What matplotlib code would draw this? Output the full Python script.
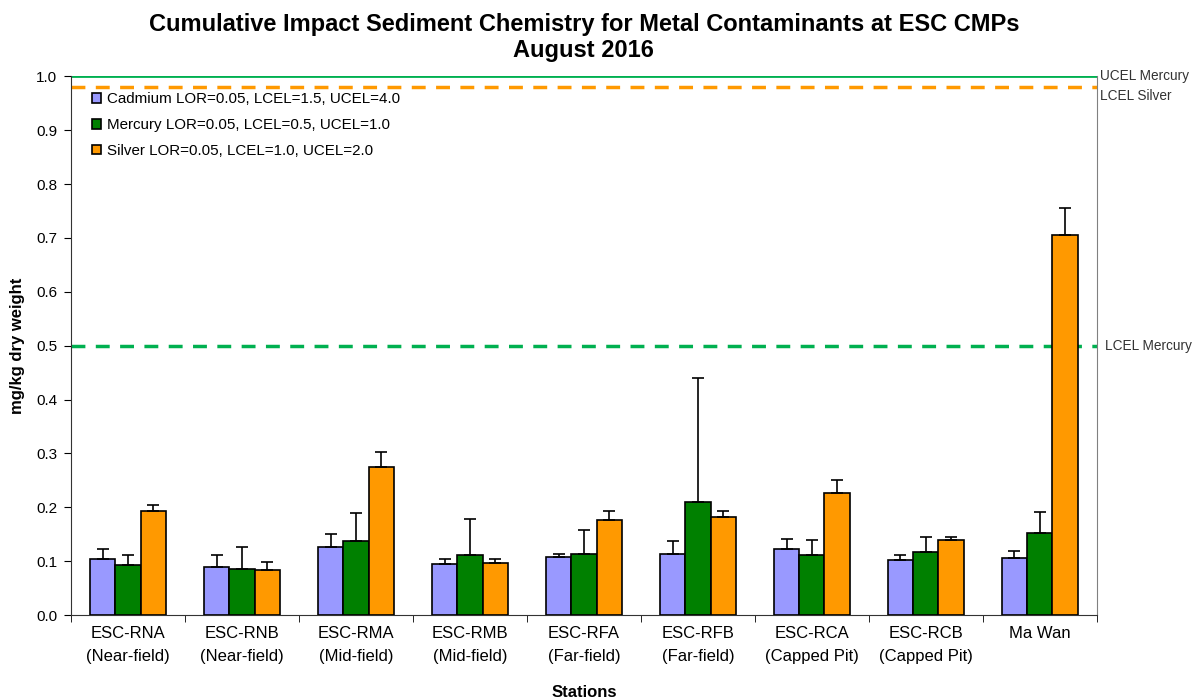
import numpy as np
import matplotlib
matplotlib.use('Agg')
from matplotlib import pyplot as plt

plt.rcParams['font.family'] = ['Liberation Sans', 'DejaVu Sans']

# Stations and measured means (mg/kg dry weight)
stations = ['ESC-RNA\n(Near-field)', 'ESC-RNB\n(Near-field)', 'ESC-RMA\n(Mid-field)',
            'ESC-RMB\n(Mid-field)', 'ESC-RFA\n(Far-field)', 'ESC-RFB\n(Far-field)',
            'ESC-RCA\n(Capped Pit)', 'ESC-RCB\n(Capped Pit)', 'Ma Wan']
cadmium = [0.104, 0.090, 0.127, 0.095, 0.107, 0.113, 0.122, 0.103, 0.105]
mercury = [0.092, 0.086, 0.137, 0.112, 0.114, 0.210, 0.111, 0.117, 0.152]
silver = [0.193, 0.084, 0.275, 0.096, 0.176, 0.182, 0.227, 0.139, 0.705]
# upper end of error bars
cadmium_hi = [0.122, 0.112, 0.151, 0.104, 0.113, 0.137, 0.141, 0.112, 0.118]
mercury_hi = [0.111, 0.127, 0.189, 0.179, 0.157, 0.440, 0.139, 0.144, 0.191]
silver_hi = [0.204, 0.098, 0.303, 0.104, 0.193, 0.193, 0.251, 0.145, 0.755]

series = [
    ('Cadmium LOR=0.05, LCEL=1.5, UCEL=4.0', cadmium, cadmium_hi, '#9999FF'),
    ('Mercury LOR=0.05, LCEL=0.5, UCEL=1.0', mercury, mercury_hi, '#008000'),
    ('Silver LOR=0.05, LCEL=1.0, UCEL=2.0', silver, silver_hi, '#FF9900'),
]

fig = plt.figure(figsize=(11.96, 7), dpi=100)
ax = fig.add_axes([0.0594, 0.1214, 0.8576, 0.7696])

x = np.arange(len(stations))
w = 0.222
for i, (lab, vals, hi, col) in enumerate(series):
    vals = np.array(vals)
    err = np.array(hi) - vals
    ax.bar(x + (i - 1) * w, vals, w, color=col, edgecolor='black', linewidth=1.2,
           label=lab, zorder=3,
           yerr=[np.zeros_like(vals), err],
           error_kw=dict(ecolor='black', elinewidth=1.2, capsize=4, capthick=1.2, zorder=4))

# criteria lines
ax.axhline(1.0, color='#00B050', lw=2, zorder=2)
ax.axhline(0.98, color='#FF9900', lw=2.5, ls=(0, (4, 3)), zorder=2)
ax.axhline(0.5, color='#00B050', lw=2.5, ls=(0, (4, 3)), zorder=2)
ax.text(1.003, 1.0, 'UCEL Mercury', transform=ax.get_yaxis_transform(), fontsize=9.8,
        color='#333333', va='center')
ax.text(1.003, 0.976, 'LCEL Silver', transform=ax.get_yaxis_transform(), fontsize=9.8,
        color='#333333', va='top')
ax.text(1.008, 0.5, 'LCEL Mercury', transform=ax.get_yaxis_transform(), fontsize=9.8,
        color='#333333', va='center')

ax.set_xlim(-0.5, len(stations) - 0.5)
ax.set_ylim(0, 1.0)
ax.set_yticks(np.arange(0, 1.01, 0.1))
ax.set_yticklabels(['%.1f' % v for v in np.arange(0, 1.01, 0.1)], fontsize=11)
ax.set_xticks(x)
ax.set_xticklabels(stations, fontsize=12, linespacing=1.65)
ax.tick_params(axis='x', length=0, pad=8)
ax.set_xticks(np.arange(-0.5, len(stations), 1), minor=True)
ax.tick_params(axis='x', which='minor', length=5, direction='out')
ax.tick_params(axis='y', length=5, direction='out', pad=5)

ax.spines['top'].set_visible(False)
ax.spines['right'].set_color('#808080')
ax.spines['left'].set_color('#333333')
ax.spines['bottom'].set_color('#333333')

ax.set_xlabel('Stations', fontsize=12, fontweight='bold', labelpad=15)
ax.set_ylabel('mg/kg dry weight', fontsize=12, fontweight='bold', labelpad=8)
ax.set_title('Cumulative Impact Sediment Chemistry for Metal Contaminants at ESC CMPs\nAugust 2016',
             fontsize=17, fontweight='bold', pad=14, linespacing=1.15)

ax.legend(loc='upper left', bbox_to_anchor=(0.009, 0.9926), frameon=False, fontsize=10.9,
          handlelength=0.6, handleheight=0.6, handletextpad=0.35, labelspacing=0.77,
          borderaxespad=0.4)

fig.savefig('out.png', dpi=100)
